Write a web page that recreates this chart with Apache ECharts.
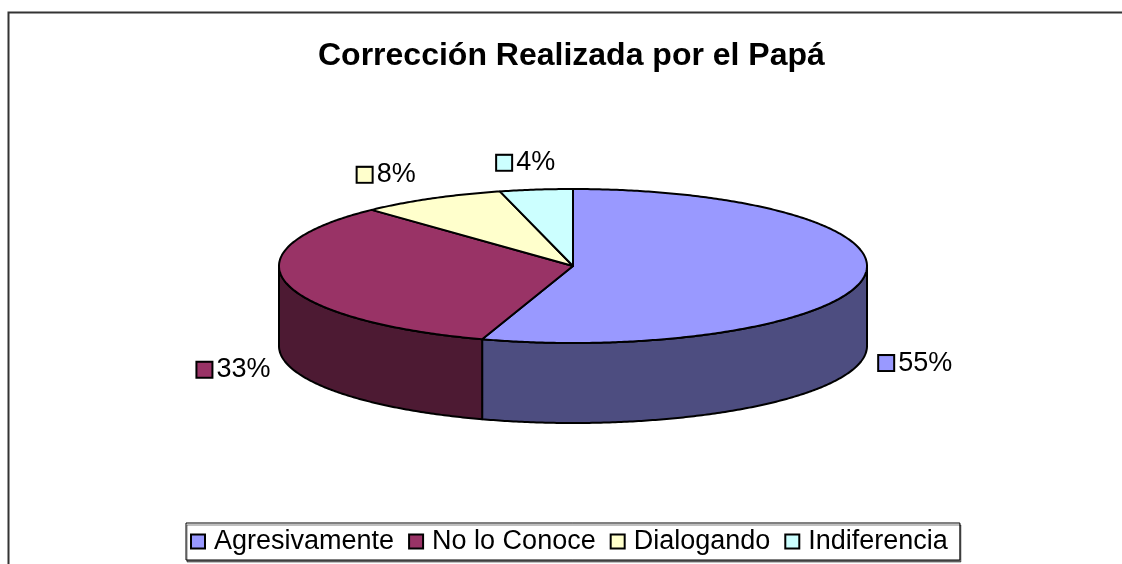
<!DOCTYPE html>
<html>
<head>
<meta charset="utf-8">
<script src="https://cdn.jsdelivr.net/npm/echarts@6/dist/echarts.min.js"></script>
<style>
html,body{margin:0;padding:0;background:#fff;}
#chart{width:1122px;height:564px;}
</style>
</head>
<body>
<div id="chart"></div>
<script>
// ---- data ----
const categories = ['Agresivamente', 'No lo Conoce', 'Dialogando', 'Indiferencia'];
const values = [55, 33, 8, 4];
const titleText = 'Corrección Realizada por el Papá';

// ---- styles ----
const topColors = ['#9999FF', '#993366', '#FFFFCC', '#CCFFFF'];
const sideColors = ['#4D4D80', '#4D1A33', '#808066', '#668080'];
const FONT = '"Liberation Sans", Arial, sans-serif';

// ---- 3D pie geometry (layout) ----
const CX = 573, CY = 266, RX = 294, RY = 77, DEPTH = 80;

const total = values.reduce((a, b) => a + b, 0);

function pt(a, d) {
  return [CX + RX * Math.sin(a), CY - RY * Math.cos(a) + (d || 0)];
}

function renderSlice(params, api) {
  const i = params.seriesIndex;
  const v = api.value(0);
  let cum = 0;
  for (let k = 0; k < i; k++) cum += values[k];
  const a1 = cum / total * 2 * Math.PI;
  const a2 = (cum + v) / total * 2 * Math.PI;
  const children = [];
  // visible side wall (front half)
  const s = Math.max(a1, Math.PI / 2), e = Math.min(a2, 3 * Math.PI / 2);
  if (e > s) {
    const n = Math.max(2, Math.ceil((e - s) / 0.01));
    const pts = [];
    for (let j = 0; j <= n; j++) pts.push(pt(s + (e - s) * j / n));
    for (let j = n; j >= 0; j--) pts.push(pt(s + (e - s) * j / n, DEPTH));
    children.push({
      type: 'polygon', z2: 1,
      shape: { points: pts },
      style: { fill: sideColors[i], stroke: '#000', lineWidth: 2, lineJoin: 'round' }
    });
  }
  // top face
  const n2 = Math.max(2, Math.ceil((a2 - a1) / 0.01));
  const top = [[CX, CY]];
  for (let j = 0; j <= n2; j++) top.push(pt(a1 + (a2 - a1) * j / n2));
  children.push({
    type: 'polygon', z2: 10,
    shape: { points: top },
    style: { fill: topColors[i], stroke: '#000', lineWidth: 2, lineJoin: 'round' }
  });
  // label
  const mid = (a1 + a2) / 2;
  const sx = Math.sin(mid), sy = -Math.cos(mid);
  const front = sy > 0;
  const lx = CX + sx * (RX + 16) + (front ? 0 : -8);
  const ly = CY + sy * (RY + (front ? 32 : 27)) + (front ? DEPTH : 0);
  const align = sx > 0.3 ? 'left' : (sx < -0.3 ? 'right' : 'center');
  const pct = Math.round(v / total * 100);
  children.push({
    type: 'text', z2: 20,
    style: {
      x: lx, y: ly,
      text: '{sq|}{g|}' + pct + '%',
      align: align, verticalAlign: 'middle',
      fontSize: 27, fontFamily: FONT, fill: '#000',
      rich: {
        sq: { width: 14, height: 14, backgroundColor: topColors[i], borderColor: '#000', borderWidth: 2 },
        g: { width: 5 }
      }
    }
  });
  return { type: 'group', children: children };
}

const series = categories.map((name, i) => ({
  type: 'custom',
  name: name,
  coordinateSystem: 'none',
  renderItem: renderSlice,
  itemStyle: { color: topColors[i] },
  data: [[values[i]]]
}));

const chart = echarts.init(document.getElementById('chart'), null, { renderer: 'canvas' });
chart.setOption({
  animation: false,
  backgroundColor: '#fff',
  title: {
    text: titleText,
    left: 318, top: 40, padding: 0,
    textStyle: { fontFamily: FONT, fontSize: 32, fontWeight: 'bold', color: '#000' }
  },
  legend: {
    data: categories,
    left: 186, top: 523,
    orient: 'horizontal',
    padding: [5, 12, 5, 4],
    itemGap: 14,
    itemWidth: 14, itemHeight: 14,
    icon: 'rect',
    borderColor: '#000', borderWidth: 1,
    backgroundColor: '#fff',
    shadowColor: 'rgba(0,0,0,0.5)', shadowOffsetX: 1, shadowOffsetY: 2, shadowBlur: 0,
    itemStyle: { borderColor: '#000', borderWidth: 2 },
    textStyle: { fontFamily: FONT, fontSize: 27, color: '#000', padding: [0, 0, 0, 4] },
    selectedMode: false
  },
  graphic: [{
    type: 'rect', z: -1, silent: true,
    shape: { x: 8.5, y: 12.5, width: 2000, height: 1000 },
    style: { fill: 'none', stroke: '#333', lineWidth: 2 }
  }],
  series: series
});
</script>
</body>
</html>
